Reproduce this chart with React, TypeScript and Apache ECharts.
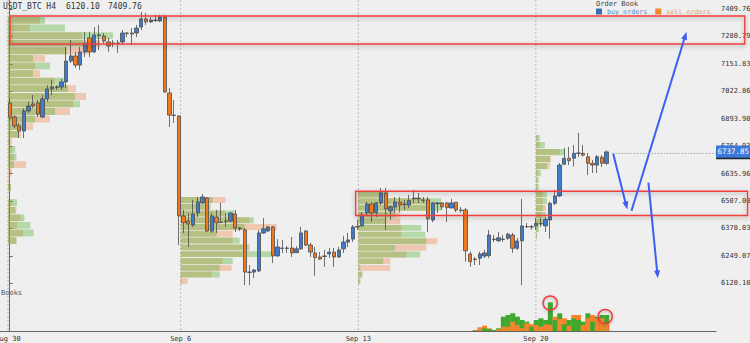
import React, { useEffect, useRef } from 'react';
import * as echarts from 'echarts';

const FONT = 'DejaVu Sans Mono';

// candles: [open, close, low, high]
const candles: number[][] = [
  [6968, 6902, 6888, 6987], [6902, 6860, 6850, 6911], [6860, 6836, 6803, 6874], [6836, 6930, 6803, 6944],
  [6930, 6954, 6921, 6973], [6963, 6954, 6944, 7005], [6968, 6916, 6902, 6982], [6902, 6987, 6897, 7005],
  [6987, 7034, 6973, 7052], [7034, 7043, 7005, 7076], [7043, 7041, 7029, 7052], [7043, 7067, 7029, 7081],
  [7067, 7165, 7038, 7231], [7165, 7189, 7156, 7264], [7189, 7146, 7132, 7208], [7146, 7208, 7123, 7231],
  [7208, 7250, 7184, 7302], [7274, 7208, 7184, 7302], [7208, 7288, 7203, 7325], [7288, 7285, 7217, 7335],
  [7283, 7259, 7250, 7297], [7255, 7236, 7208, 7274], [7250, 7248, 7231, 7264], [7248, 7250, 7203, 7264],
  [7255, 7297, 7241, 7311], [7297, 7295, 7278, 7302], [7297, 7292, 7241, 7320], [7297, 7320, 7278, 7335],
  [7325, 7363, 7311, 7396], [7363, 7349, 7335, 7391], [7349, 7358, 7344, 7372], [7358, 7356, 7349, 7382],
  [7353, 7372, 7349, 7382], [7372, 7020, 7015, 7382], [7015, 6911, 6855, 7038], [6911, 6909, 6874, 6982],
  [6907, 6437, 6300, 6911], [6437, 6404, 6357, 6465], [6413, 6399, 6291, 6451], [6394, 6446, 6385, 6512],
  [6451, 6502, 6432, 6526], [6498, 6526, 6493, 6540], [6521, 6366, 6361, 6526], [6366, 6437, 6357, 6451],
  [6432, 6404, 6357, 6465], [6408, 6406, 6404, 6498], [6413, 6411, 6385, 6451], [6413, 6451, 6408, 6455],
  [6446, 6380, 6361, 6465], [6380, 6376, 6366, 6385], [6371, 6173, 6112, 6380], [6173, 6171, 6112, 6206],
  [6173, 6183, 6145, 6188], [6178, 6357, 6173, 6371], [6357, 6376, 6352, 6427], [6366, 6385, 6361, 6390],
  [6385, 6249, 6216, 6390], [6249, 6291, 6244, 6328], [6286, 6284, 6263, 6324], [6286, 6284, 6263, 6295],
  [6286, 6263, 6244, 6338], [6264, 6282, 6263, 6295], [6282, 6357, 6277, 6385], [6366, 6300, 6295, 6371],
  [6300, 6267, 6244, 6310], [6263, 6241, 6155, 6291], [6244, 6234, 6230, 6267], [6249, 6246, 6197, 6277],
  [6258, 6267, 6239, 6286], [6267, 6244, 6197, 6286], [6244, 6277, 6239, 6291], [6282, 6314, 6263, 6343],
  [6314, 6324, 6291, 6357], [6328, 6385, 6314, 6394], [6385, 6387, 6371, 6418], [6390, 6441, 6385, 6455],
  [6451, 6493, 6441, 6502], [6493, 6451, 6408, 6502], [6452, 6498, 6432, 6502], [6498, 6545, 6488, 6568],
  [6545, 6470, 6371, 6568], [6460, 6479, 6418, 6488], [6479, 6502, 6451, 6526], [6502, 6488, 6455, 6526],
  [6493, 6491, 6465, 6512], [6488, 6509, 6474, 6535], [6517, 6521, 6498, 6559], [6521, 6517, 6498, 6545],
  [6512, 6510, 6498, 6526], [6512, 6423, 6361, 6526], [6418, 6498, 6408, 6502], [6493, 6498, 6451, 6502],
  [6498, 6479, 6465, 6502], [6498, 6476, 6408, 6502], [6474, 6498, 6474, 6517], [6501, 6465, 6455, 6502],
  [6465, 6462, 6451, 6479], [6465, 6273, 6222, 6474], [6258, 6222, 6198, 6269], [6234, 6232, 6206, 6244],
  [6238, 6258, 6206, 6269], [6248, 6263, 6239, 6277], [6250, 6347, 6239, 6371], [6328, 6326, 6314, 6347],
  [6320, 6334, 6314, 6361], [6328, 6326, 6314, 6347], [6332, 6351, 6324, 6357], [6347, 6285, 6263, 6357],
  [6285, 6319, 6277, 6333], [6320, 6390, 6112, 6517], [6387, 6386, 6380, 6404], [6386, 6385, 6371, 6394],
  [6390, 6402, 6371, 6427], [6402, 6401, 6385, 6427], [6390, 6421, 6361, 6432], [6418, 6496, 6330, 6504],
  [6496, 6531, 6488, 6559], [6531, 6676, 6526, 6686], [6680, 6708, 6676, 6756], [6708, 6697, 6676, 6761],
  [6708, 6731, 6670, 6770], [6731, 6733, 6715, 6827], [6731, 6723, 6715, 6770], [6715, 6684, 6629, 6733],
  [6684, 6676, 6639, 6700], [6676, 6715, 6639, 6723], [6712, 6684, 6667, 6723], [6684, 6737.85, 6676, 6745],
];

const dateLabels = ['Aug 30', 'Sep 6', 'Sep 13', 'Sep 20'];
const datePositions = [-0.36, 36.38, 74.17, 111.96];
const priceTicks = [6120.10, 6249.07, 6378.03, 6507.00, 6635.96, 6764.93, 6893.90, 7022.86, 7151.83, 7280.79, 7409.76];
const lastPrice = 6737.85;
const lastPriceFrom = 128.3;
const headerLow = '6120.10';
const headerHigh = '7409.76';

// weekly volume profiles
const profileStarts = [-0.36, 36.38, 74.17, 111.96];
const profileTops = [7372.2, 6525.9, 6550.8, 6817.4];
const profileBins = [35.7, 31.83, 31.3, 32.9];
const profileBuy = [
  [37, 57, 105, 75, 59, 25, 42, 25, 57, 60, 67, 72, 47, 27, 15, 10, 1.5, 7.4, 8.4, 6, 0, 0, 3, 0, 9, 7.4, 16.4, 22.4, 25.7, 8.4],
  [32, 30, 54, 73, 64, 36, 59, 69, 92, 52, 39, 39, 1],
  [30, 83, 83, 37, 28, 63, 67, 68, 37, 62, 25, 2, 4, 2],
  [4, 9, 29, 14, 11, 5, 3, 3, 11, 11, 7, 10, 10, 3, 1],
];
const profileSell = [
  [32, 22, 74, 92, 82, 37, 27, 32, 47, 68, 78, 65, 62, 42, 25, 13, 4, 4, 6, 18, 4, 2, 3, 0, 4, 8.4, 12.4, 9, 15, 8.4],
  [45, 25, 44, 69, 96, 52, 52, 62, 62, 42, 51, 31, 7],
  [26, 72, 72, 42, 42, 43, 43, 79, 68, 48, 32, 32, 4, 2],
  [2, 4, 24, 15, 14, 2, 1, 1, 7, 7, 10, 6, 6, 2, 1],
];

// volume histogram (last candles)
const volumeStart = 99;
const buyVolume = [0.5, 0, 2.7, 2, 1, 2.7, 14.3, 16, 17.7, 14.3, 11, 9.3, 4.3, 11, 12.7, 11, 28.7, 11, 17.7, 6.7, 11, 12.7, 11, 9.3, 17.7, 9.3, 14.3, 16, 16];
const sellVolume = [1, 3.7, 5.3, 2.7, 0, 1.7, 4.3, 4.3, 9.3, 6, 2.7, 7.7, 6.7, 6, 4.3, 6.7, 6, 14.3, 12, 12.7, 5.3, 16, 16, 6, 12.7, 16, 12.7, 12.7, 7.7];

// order book: [price, size]
const sellOrders = [
  [7394, 8], [7381, 3], [7360, 2], [7340, 3], [7320, 2], [7290.8, 23], [7270, 3], [7250, 2], [7230, 3], [7200, 2],
  [7170, 3], [7140, 2], [7110, 3], [7091.5, 107], [7060, 3], [7040, 4], [7010, 3], [6990, 15], [6970, 4], [6950, 3],
  [6930, 6], [6911, 5], [6895, 9], [6880, 8], [6860, 6], [6841, 8], [6825, 10], [6808, 5], [6790, 12], [6773.7, 83],
  [6765, 7], [6755, 18], [6745, 6],
];
const buyOrders = [
  [6725, 13], [6712, 6], [6673, 83], [6655, 4], [6640, 7], [6629, 6], [6598, 41], [6585, 8], [6570, 12], [6559, 10],
  [6545, 6], [6532, 41], [6520, 5], [6498, 16], [6480, 6], [6465, 9], [6451, 19], [6430, 5], [6418, 17], [6405, 9],
  [6390, 4], [6371, 9], [6355, 5], [6339, 5], [6320, 3], [6292, 17], [6275, 9], [6260, 4], [6248, 6], [6239, 13],
  [6225, 3], [6198, 14], [6180, 5], [6159, 9], [6136, 3], [6110, 2],
];

// annotations
const zones = [[0.06, 7376.9, 156.4, 7245.2], [73.6, 6552.7, 157.0, 6438.9]];
const arrows = [[128.4, 6730.4, 131.4, 6467.1], [132.3, 6461.5, 144.0, 7303.1], [135.9, 6593.1, 137.9, 6143.6]];
const circles = [[115, 28], [126.7, 14.5]];

const X_MIN = -2.064;
const X_MAX = 150.28;
const Y_MIN = 5895.8;
const Y_MAX = 7452.1;
const PROFILE_UNIT = 1 / 4.7;

function buildOption() {
  const profileRows: number[][] = [];
  profileStarts.forEach((s, k) => {
    profileBuy[k].forEach((b, j) => {
      const top = profileTops[k] - j * profileBins[k];
      profileRows.push([s, top, top - profileBins[k], b, profileSell[k][j]]);
    });
  });
  const volumeRows = buyVolume.map((b, k) => [volumeStart + k, b, sellVolume[k]]);

  return {
    animation: false,
    backgroundColor: '#efefef',
    textStyle: { fontFamily: FONT },
    title: {
      text: 'Order Book', left: 596, top: 0, padding: 0,
      textStyle: { fontSize: 7, fontWeight: 'normal', color: '#444', fontFamily: FONT },
    },
    legend: {
      left: 596, top: 8, padding: 0, itemWidth: 6, itemHeight: 6, itemGap: 8, icon: 'rect',
      textStyle: { fontSize: 6.7, fontFamily: FONT },
      data: [
        { name: 'buy orders', textStyle: { color: '#5b8ccc' } },
        { name: 'sell orders', textStyle: { color: '#f0a060' } },
      ],
    },
    graphic: [
      { type: 'text', left: 3, top: 2, style: { text: 'USDT_BTC H4', fontSize: 8, fontFamily: FONT, fill: '#333' } },
      { type: 'text', left: 66, top: 2, style: { text: headerLow, fontSize: 8, fontFamily: FONT, fill: '#333' } },
      { type: 'text', left: 108, top: 2, style: { text: headerHigh, fontSize: 8, fontFamily: FONT, fill: '#333' } },
      { type: 'text', left: 1, top: 289, style: { text: 'Books', fontSize: 7, fontFamily: FONT, fill: '#555' } },
    ],
    grid: { left: 0, right: 34, top: 0, bottom: 12, containLabel: false, outerBoundsMode: 'none' },
    xAxis: [
      {
        type: 'value', min: X_MIN, max: X_MAX, position: 'bottom',
        axisLine: { show: true, lineStyle: { color: '#666', width: 1 } },
        axisTick: { show: false, customValues: datePositions },
        splitLine: { show: false },
        axisLabel: {
          customValues: datePositions, fontSize: 7, color: '#333', margin: 4, fontFamily: FONT,
          formatter: (v: number) => {
            let best = 0;
            datePositions.forEach((p, i) => { if (Math.abs(p - v) < Math.abs(datePositions[best] - v)) best = i; });
            return dateLabels[best];
          },
        },
      },
      { type: 'value', min: 0, max: 716, inverse: true, show: false },
    ],
    yAxis: [
      {
        type: 'value', min: Y_MIN, max: Y_MAX, position: 'right',
        axisLine: { show: true, lineStyle: { color: '#666', width: 1 } },
        axisTick: { show: true, length: 3, customValues: priceTicks, lineStyle: { color: '#666' } },
        splitLine: { show: false },
        axisLabel: {
          customValues: priceTicks, fontSize: 7, color: '#333', margin: 5, fontFamily: FONT,
          formatter: (v: number) => v.toFixed(2),
        },
      },
      { type: 'value', min: 0, max: 331, show: false },
    ],
    series: [
      {
        type: 'custom', name: 'weeks', xAxisIndex: 0, yAxisIndex: 0, z: 1, silent: true,
        data: datePositions.map((p) => [p, Y_MAX]),
        renderItem: (params: any, api: any) => {
          const a = api.coord([api.value(0), Y_MAX]);
          const b = api.coord([api.value(0), Y_MIN]);
          return { type: 'line', shape: { x1: a[0], y1: a[1], x2: b[0], y2: b[1] }, style: { stroke: '#b8b8b8', lineWidth: 1, lineDash: [2, 2] } };
        },
      },
      {
        type: 'custom', name: 'profile', xAxisIndex: 0, yAxisIndex: 0, z: 2, silent: true,
        data: profileRows,
        renderItem: (params: any, api: any) => {
          const p0 = api.coord([api.value(0), api.value(1)]);
          const p1 = api.coord([api.value(0), api.value(2)]);
          const h = Math.max(p1[1] - p0[1] - 0.8, 0.5);
          const wb = api.size([api.value(3) * PROFILE_UNIT, 0])[0];
          const ws = api.size([api.value(4) * PROFILE_UNIT, 0])[0];
          return {
            type: 'group', children: [
              { type: 'rect', shape: { x: p0[0], y: p0[1], width: ws, height: h }, style: { fill: 'rgba(240,128,64,0.36)' } },
              { type: 'rect', shape: { x: p0[0], y: p0[1], width: wb, height: h }, style: { fill: 'rgba(100,184,70,0.42)' } },
            ],
          };
        },
      },
      {
        type: 'candlestick', name: 'USDT_BTC', xAxisIndex: 0, yAxisIndex: 0, z: 4,
        data: candles.map((c, i) => [i, c[0], c[1], c[2], c[3]]),
        encode: { x: 0, y: [1, 2, 3, 4] },
        barWidth: 3.8,
        itemStyle: { color: '#3d7ccc', color0: '#f07820', borderColor: '#4d4d4d', borderColor0: '#4d4d4d', borderWidth: 0.8 },
      },
      {
        type: 'custom', name: 'sell orders', xAxisIndex: 1, yAxisIndex: 0, z: 3, silent: true,
        itemStyle: { color: '#f08a30' },
        data: sellOrders,
        renderItem: (params: any, api: any) => {
          const a = api.coord([0, api.value(1)]);
          const b = api.coord([api.value(0), api.value(1)]);
          return { type: 'line', shape: { x1: a[0], y1: a[1], x2: b[0], y2: b[1] }, style: { stroke: 'rgba(242,160,96,0.85)', lineWidth: 1 } };
        },
      },
      {
        type: 'custom', name: 'buy orders', xAxisIndex: 1, yAxisIndex: 0, z: 3, silent: true,
        itemStyle: { color: '#3b6fb6' },
        data: buyOrders,
        renderItem: (params: any, api: any) => {
          const a = api.coord([0, api.value(1)]);
          const b = api.coord([api.value(0), api.value(1)]);
          return { type: 'line', shape: { x1: a[0], y1: a[1], x2: b[0], y2: b[1] }, style: { stroke: 'rgba(100,140,196,0.85)', lineWidth: 1 } };
        },
      },
      {
        type: 'custom', name: 'volume', xAxisIndex: 0, yAxisIndex: 1, z: 3, silent: true,
        data: volumeRows,
        renderItem: (params: any, api: any) => {
          const i = api.value(0);
          const b = api.value(1);
          const s = api.value(2);
          const base = api.coord([i - 0.5, 0]);
          const right = api.coord([i + 0.5, 0]);
          const w = right[0] - base[0];
          const mk = (v: number, color: string) => {
            const top = api.coord([i, v]);
            return { type: 'rect', shape: { x: base[0], y: top[1], width: w + 0.3, height: base[1] - top[1] }, style: { fill: color } };
          };
          const g = mk(b, '#3fa82e');
          const o = mk(s, '#f5842c');
          return { type: 'group', children: b >= s ? [g, o] : [o, g] };
        },
      },
      {
        type: 'custom', name: 'zones', xAxisIndex: 0, yAxisIndex: 0, z: 6, silent: true,
        data: zones,
        renderItem: (params: any, api: any) => {
          const a = api.coord([api.value(0), api.value(1)]);
          const b = api.coord([api.value(2), api.value(3)]);
          return {
            type: 'rect', shape: { x: a[0], y: a[1], width: b[0] - a[0], height: b[1] - a[1] },
            style: { fill: 'none', stroke: '#f23c3c', lineWidth: 1.4, shadowBlur: 4, shadowColor: 'rgba(0,0,0,0.35)', shadowOffsetY: 1.5 },
          };
        },
      },
      {
        type: 'custom', name: 'arrows', xAxisIndex: 0, yAxisIndex: 0, z: 7, silent: true,
        data: arrows,
        renderItem: (params: any, api: any) => {
          const a = api.coord([api.value(0), api.value(1)]);
          const b = api.coord([api.value(2), api.value(3)]);
          const dx = b[0] - a[0];
          const dy = b[1] - a[1];
          const len = Math.sqrt(dx * dx + dy * dy);
          const ux = dx / len;
          const uy = dy / len;
          const nx = -uy;
          const ny = ux;
          const hl = 8;
          const hw = 3;
          const bx = b[0] - ux * hl;
          const by = b[1] - uy * hl;
          return {
            type: 'group', children: [
              { type: 'line', shape: { x1: a[0], y1: a[1], x2: bx + ux * 2, y2: by + uy * 2 }, style: { stroke: '#3d5ef2', lineWidth: 2 } },
              { type: 'polygon', shape: { points: [[b[0], b[1]], [bx + nx * hw, by + ny * hw], [bx - nx * hw, by - ny * hw]] }, style: { fill: '#3d5ef2' } },
            ],
          };
        },
      },
      {
        type: 'custom', name: 'circles', xAxisIndex: 0, yAxisIndex: 1, z: 7, silent: true,
        data: circles,
        renderItem: (params: any, api: any) => {
          const c = api.coord([api.value(0), api.value(1)]);
          return {
            type: 'circle', shape: { cx: c[0], cy: c[1], r: 7 },
            style: { fill: 'none', stroke: '#f03a3a', lineWidth: 1.5, shadowBlur: 3, shadowColor: 'rgba(0,0,0,0.3)', shadowOffsetY: 1 },
          };
        },
      },
      {
        type: 'custom', name: 'lastPrice', xAxisIndex: 0, yAxisIndex: 0, z: 8, silent: true,
        data: [[lastPriceFrom, lastPrice]],
        renderItem: (params: any, api: any) => {
          const p = api.coord([api.value(0), api.value(1)]);
          const cs = params.coordSys;
          const right = cs.x + cs.width;
          return {
            type: 'group', children: [
              { type: 'line', shape: { x1: p[0], y1: p[1] + 1.5, x2: right, y2: p[1] + 1.5 }, style: { stroke: '#a8a8a8', lineWidth: 1, lineDash: [1.5, 1.5] } },
              { type: 'rect', shape: { x: right, y: p[1] - 6.5, width: 34, height: 13 }, style: { fill: '#3b78d8' } },
              { type: 'line', shape: { x1: right, y1: p[1] + 6.5, x2: right + 34, y2: p[1] + 6.5 }, style: { stroke: '#222', lineWidth: 1.5 } },
              { type: 'text', x: right + 1.5, y: p[1], style: { text: lastPrice.toFixed(2), fill: '#fff', fontSize: 7.5, fontFamily: FONT, verticalAlign: 'middle', align: 'left' } },
            ],
          };
        },
      },
    ],
  };
}

export default function App() {
  const ref = useRef<HTMLDivElement>(null);
  useEffect(() => {
    if (!ref.current) return;
    const chart = echarts.init(ref.current, null, { renderer: 'svg' });
    chart.setOption(buildOption() as any);
    return () => chart.dispose();
  }, []);
  return <div ref={ref} style={{ position: 'fixed', left: 0, top: 0, width: 750, height: 343 }} />;
}
